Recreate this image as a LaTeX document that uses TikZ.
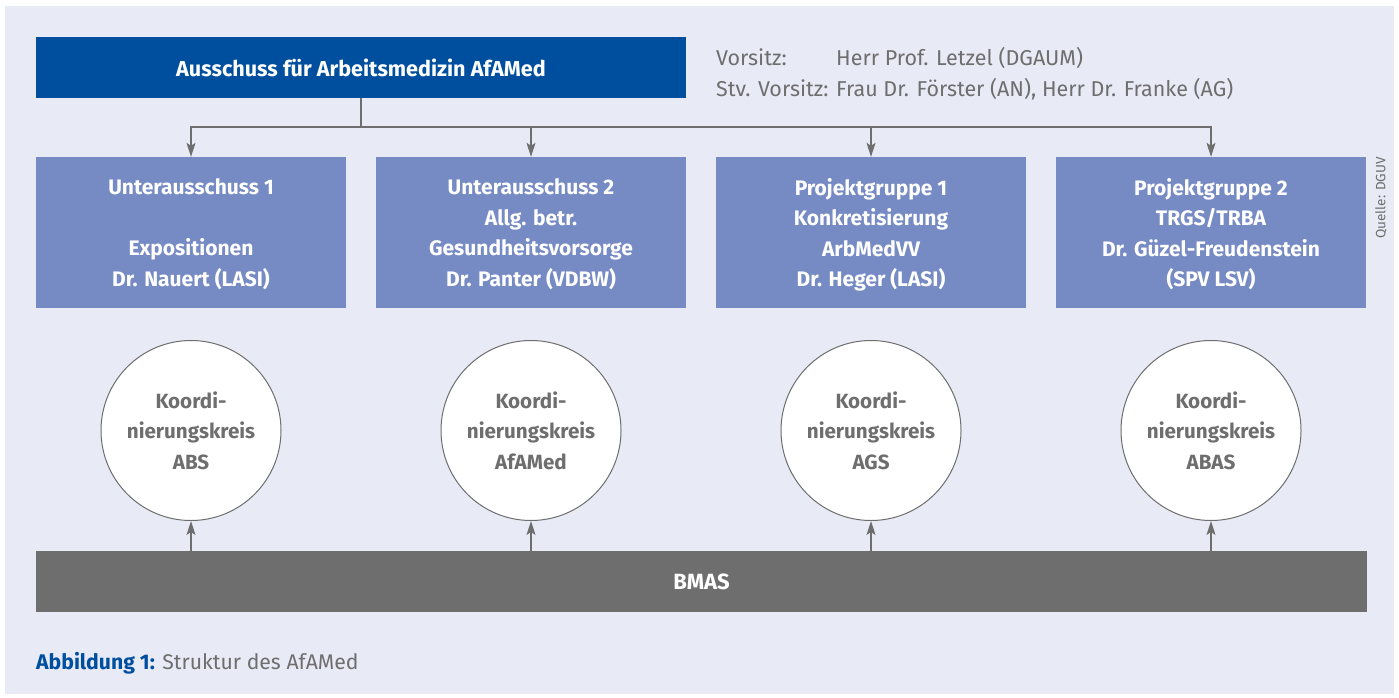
\documentclass[tikz,border=0pt]{standalone}
\usepackage{fontspec}
\setmainfont{Fira Sans}
\usetikzlibrary{arrows.meta,positioning}
\definecolor{bgviolet}{HTML}{E8EAF6}
\definecolor{afablue}{HTML}{004F9F}
\definecolor{subblue}{HTML}{768AC4}
\definecolor{bmasgray}{HTML}{6E6E6E}
\tikzset{
	mainbox/.style={fill=afablue, text=white, inner sep=0pt,
		minimum width=650pt, minimum height=61pt,
		font=\fontsize{21.6}{30}\selectfont\bfseries},
	subbox/.style={fill=subblue, text=white, inner sep=0pt, align=center,
		minimum width=310pt, minimum height=151pt, text depth=0pt,
		font=\fontsize{21}{30.5}\selectfont\bfseries},
	kreis/.style={circle, draw=bmasgray, line width=1pt, fill=white,
		minimum size=180pt, inner sep=0pt, align=center, text=bmasgray,
		font=\fontsize{20.6}{30.5}\selectfont\bfseries},
	bmasbox/.style={fill=bmasgray, text=white, inner sep=0pt,
		minimum width=1331pt, minimum height=61pt,
		font=\fontsize{22}{30}\selectfont\bfseries},
	arr/.style={draw=bmasgray, line width=1.3pt,
		-{Stealth[length=14pt,width=9pt,inset=3pt]}},
}

\begin{document}
\begin{tikzpicture}[x=1pt,y=-1pt]
\useasboundingbox (0,0) rectangle (1399,697);
\fill[bgviolet] (5,6) rectangle (1394,694);

% oberste Ebene
\node[mainbox] (afamed) at (361,67.5) {Ausschuss für Arbeitsmedizin AfAMed};
\node[anchor=base west, inner sep=0pt, text=bmasgray,
	font=\fontsize{21.5}{31}\selectfont] (vorsitz) at (716,65)
	{\begin{tabular}[t]{@{}l@{ }l@{}}
	Vorsitz: & Herr Prof. Letzel (DGAUM)\\
	Stv. Vorsitz: & Frau Dr. Förster (AN), Herr Dr. Franke (AG)
	\end{tabular}};
\coordinate (fork) at (361,127);

% Unterausschuesse und Projektgruppen
\node[subbox] (sub1) at (191,232.5) {Unterausschuss 1\\\mbox{}\\Expositionen\\Dr. Nauert (LASI)};
\node[subbox] (sub2) at (531,232.5) {Unterausschuss 2\\Allg. betr.\\Gesundheitsvorsorge\\Dr. Panter (VDBW)};
\node[subbox] (sub3) at (871,232.5) {Projektgruppe 1\\Konkretisierung\\ArbMedVV\\Dr. Heger (LASI)};
\node[subbox] (sub4) at (1211,232.5) {Projektgruppe 2\\TRGS/TRBA\\Dr. Güzel-Freudenstein\\(SPV LSV)};

% Koordinierungskreise
\node[kreis] (kabs) at (191,430.5) {Koordi-\\nierungskreis\\ABS};
\node[kreis] (kafamed) at (531,430.5) {Koordi-\\nierungskreis\\AfAMed};
\node[kreis] (kags) at (871,430.5) {Koordi-\\nierungskreis\\AGS};
\node[kreis] (kabas) at (1211,430.5) {Koordi-\\nierungskreis\\ABAS};

\node[bmasbox] (bmas) at (701.5,581.5) {BMAS};

\foreach \n in {sub1,sub2,sub3,sub4}
	\draw[arr] (afamed.south) |- (\n.north |- fork) -- (\n.north);
\foreach \k in {kabs,kafamed,kags,kabas}
	\draw[arr] (bmas.north -| \k) -- (\k.south);

\node[anchor=base west, inner sep=0pt, text=bmasgray,
	font=\fontsize{21.2}{24}\selectfont] (caption) at (36,669)
	{\textcolor{afablue}{\bfseries Abbildung 1:} Struktur des AfAMed};
\node[rotate=90, inner sep=0pt, text=bmasgray,
	font=\fontsize{13.5}{16}\selectfont] (quelle) at (1381,198) {Quelle: DGUV};
\end{tikzpicture}
\end{document}
